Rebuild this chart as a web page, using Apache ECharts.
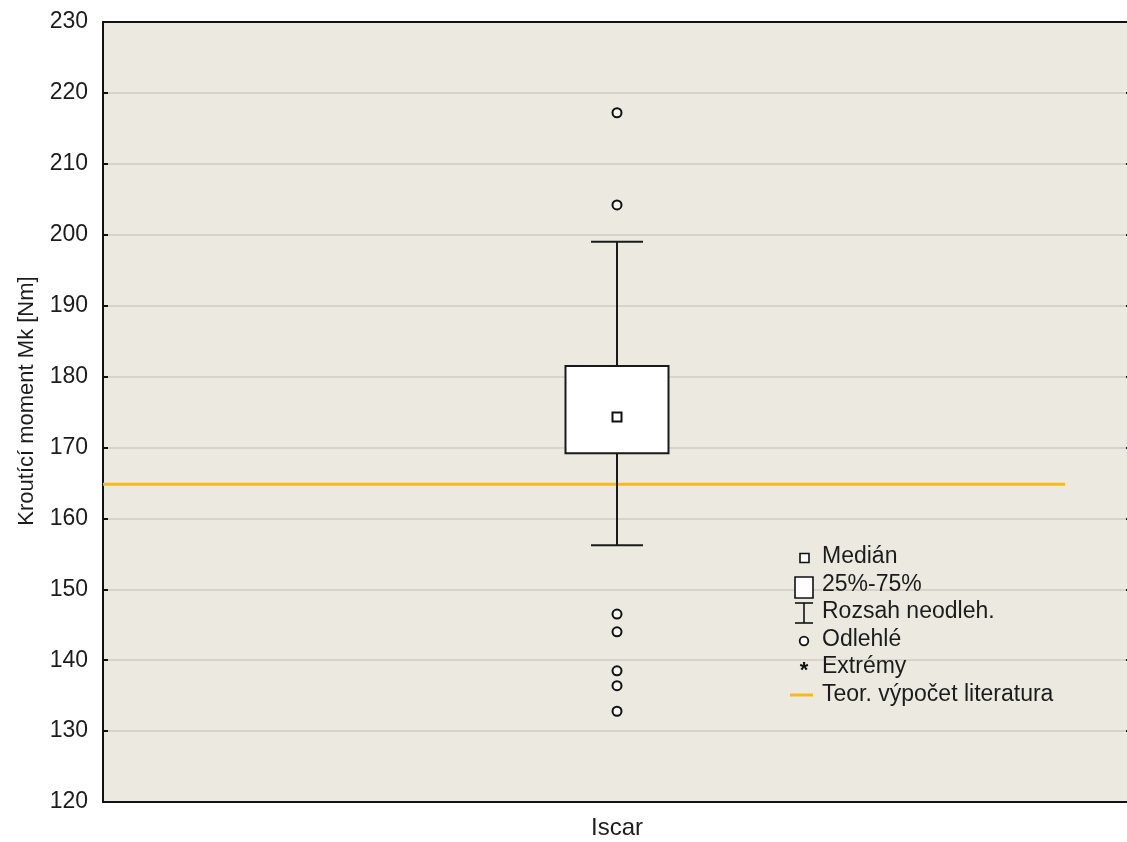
<!DOCTYPE html>
<html>
<head>
<meta charset="utf-8">
<script src="https://cdn.jsdelivr.net/npm/echarts@6/dist/echarts.min.js"></script>
<style>
html,body{margin:0;padding:0;background:#fff;}
#c{width:1127px;height:842px;}
</style>
</head>
<body>
<div id="c"></div>
<script>
const categories = ['Iscar'];
// whisker low, Q1, median, Q3, whisker high
const boxStats = [[156.2, 169.2, 174.3, 181.5, 199.0]];
const outliers = [217.2, 204.2, 146.5, 144.0, 138.5, 136.4, 132.8];
const theoretical = 164.8;
const yMin = 120, yMax = 230, yStep = 10;
const yAxisName = 'Kroutící moment Mk [Nm]';
const legendLabels = ['Medián', '25%-75%', 'Rozsah neodleh.', 'Odlehlé', 'Extrémy', 'Teor. výpočet literatura'];

const FONT = '"Liberation Sans", Arial, sans-serif';
const TXT = '#1c1c1c';
const YEL = '#F3BC1C';

const chart = echarts.init(document.getElementById('c'), null, {renderer: 'canvas'});

function legendGraphics() {
  const x0 = 804, tx = 822;
  const ys = [557, 585, 612, 640, 667, 695];
  const g = [];
  legendLabels.forEach((t, i) => {
    g.push({type: 'text', x: tx, y: ys[i], z: 100, style: {text: t, font: '23px ' + FONT, fill: TXT, verticalAlign: 'middle'}});
  });
  // Median square
  g.push({type: 'rect', z: 100, shape: {x: x0 - 4, y: ys[0] - 3.5, width: 9, height: 9}, style: {fill: '#fff', stroke: '#111', lineWidth: 1.6}});
  // box
  g.push({type: 'rect', z: 100, shape: {x: x0 - 9, y: ys[1] - 8, width: 18, height: 21}, style: {fill: '#fff', stroke: '#111', lineWidth: 1.6}});
  // whisker I-beam
  g.push({type: 'line', z: 100, shape: {x1: x0 - 9, y1: ys[2] - 9, x2: x0 + 9, y2: ys[2] - 9}, style: {stroke: '#111', lineWidth: 1.6}});
  g.push({type: 'line', z: 100, shape: {x1: x0 - 9, y1: ys[2] + 11, x2: x0 + 9, y2: ys[2] + 11}, style: {stroke: '#111', lineWidth: 1.6}});
  g.push({type: 'line', z: 100, shape: {x1: x0, y1: ys[2] - 9, x2: x0, y2: ys[2] + 11}, style: {stroke: '#111', lineWidth: 1.6}});
  // circle
  g.push({type: 'circle', z: 100, shape: {cx: x0, cy: ys[3] + 1, r: 4.3}, style: {fill: '#fff', stroke: '#111', lineWidth: 1.8}});
  // asterisk
  g.push({type: 'text', z: 100, x: x0, y: ys[4] + 4, style: {text: '*', font: 'bold 22px ' + FONT, fill: '#111', align: 'center', verticalAlign: 'middle'}});
  // yellow line
  g.push({type: 'line', z: 100, shape: {x1: x0 - 14, y1: ys[5], x2: x0 + 9, y2: ys[5]}, style: {stroke: YEL, lineWidth: 3}});
  return g;
}

const option = {
  backgroundColor: '#ffffff',
  animation: false,
  grid: {left: 103, top: 22, width: 1028, height: 780, show: true, backgroundColor: '#ECE9E0', borderWidth: 0, containLabel: false, outerBoundsMode: 'none'},
  xAxis: [
    {
      type: 'category', data: categories, position: 'bottom',
      axisLine: {show: true, lineStyle: {color: '#111', width: 2}},
      axisTick: {show: false},
      axisLabel: {fontSize: 24, fontFamily: FONT, color: TXT, margin: 14},
      splitLine: {show: false}
    },
    {
      type: 'category', data: categories, position: 'top',
      axisLine: {show: true, lineStyle: {color: '#111', width: 2}},
      axisTick: {show: false}, axisLabel: {show: false}, splitLine: {show: false}
    },
    {
      type: 'value', min: 0, max: 1, show: false
    }
  ],
  yAxis: [
    {
      type: 'value', min: yMin, max: yMax, interval: yStep, position: 'left',
      name: yAxisName, nameLocation: 'middle', nameRotate: 90, nameGap: 65,
      nameTextStyle: {fontSize: 22, fontFamily: FONT, color: TXT, padding: [0, 0, 0, 22]},
      axisLine: {show: true, lineStyle: {color: '#111', width: 2}},
      axisTick: {show: true, inside: true, length: 5, lineStyle: {color: '#111', width: 2}},
      axisLabel: {fontSize: 23, fontFamily: FONT, color: TXT, margin: 15},
      splitLine: {show: true, lineStyle: {color: '#D5D3CA', width: 2}}
    },
    {
      type: 'value', min: yMin, max: yMax, interval: yStep, position: 'right',
      axisLine: {show: true, lineStyle: {color: '#111', width: 2}},
      axisTick: {show: true, inside: true, length: 5, lineStyle: {color: '#111', width: 2}},
      axisLabel: {show: false}, splitLine: {show: false}
    }
  ],
  series: [
    {
      type: 'line', xAxisIndex: 2, yAxisIndex: 0, symbol: 'none', z: 3,
      data: [[0, theoretical], [0.936, theoretical]],
      lineStyle: {color: YEL, width: 3}
    },
    {
      type: 'custom', xAxisIndex: 0, yAxisIndex: 0, z: 4,
      data: boxStats.map((s, i) => [i].concat(s)),
      renderItem: function (params, api) {
        const c = api.value(0);
        const pLow = api.coord([c, api.value(1)]);
        const pQ1 = api.coord([c, api.value(2)]);
        const pMed = api.coord([c, api.value(3)]);
        const pQ3 = api.coord([c, api.value(4)]);
        const pHigh = api.coord([c, api.value(5)]);
        const x = pMed[0];
        const bw = 103, cw = 52;
        const ls = {stroke: '#1a1a1a', lineWidth: 2, fill: null};
        return {
          type: 'group',
          children: [
            {type: 'line', shape: {x1: x, y1: pHigh[1], x2: x, y2: pQ3[1]}, style: ls},
            {type: 'line', shape: {x1: x, y1: pQ1[1], x2: x, y2: pLow[1]}, style: ls},
            {type: 'line', shape: {x1: x - cw / 2, y1: pHigh[1], x2: x + cw / 2, y2: pHigh[1]}, style: ls},
            {type: 'line', shape: {x1: x - cw / 2, y1: pLow[1], x2: x + cw / 2, y2: pLow[1]}, style: ls},
            {type: 'rect', shape: {x: x - bw / 2, y: pQ3[1], width: bw, height: pQ1[1] - pQ3[1]}, style: {fill: '#fff', stroke: '#1a1a1a', lineWidth: 2}},
            {type: 'rect', shape: {x: x - 4.5, y: pMed[1] - 4.5, width: 9, height: 9}, style: {fill: '#fff', stroke: '#111', lineWidth: 2}}
          ]
        };
      }
    },
    {
      type: 'scatter', xAxisIndex: 0, yAxisIndex: 0, z: 5,
      data: outliers.map(v => [categories[0], v]),
      symbol: 'circle', symbolSize: 9,
      itemStyle: {color: '#f7f6f1', borderColor: '#111', borderWidth: 2, opacity: 1}
    }
  ],
  graphic: legendGraphics()
};
chart.setOption(option);
</script>
</body>
</html>
